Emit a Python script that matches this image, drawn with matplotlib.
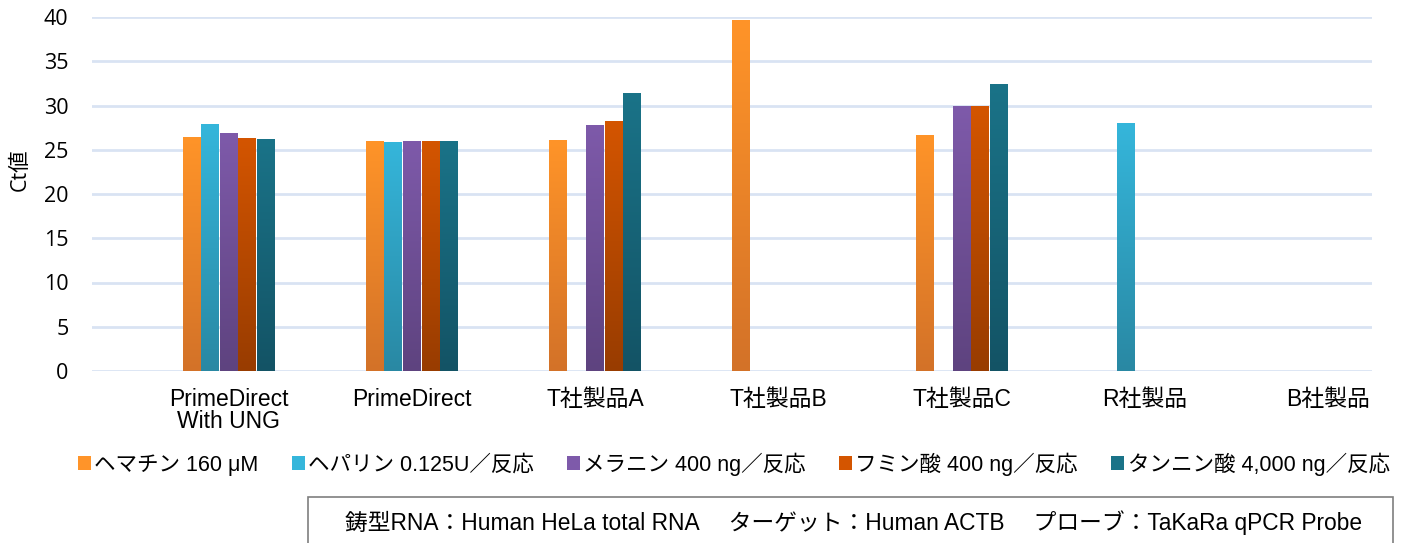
import numpy as np
import matplotlib
matplotlib.use("Agg")
import matplotlib.pyplot as plt
from matplotlib.colors import LinearSegmentedColormap
from matplotlib.patches import Rectangle

FAM = ['Liberation Sans', 'Noto Sans CJK JP']
plt.rcParams['font.family'] = FAM

categories = ["PrimeDirect\nWith UNG", "PrimeDirect", "T社製品A", "T社製品B", "T社製品C", "R社製品", "B社製品"]
series_names = ["ヘマチン 160 μM", "ヘパリン 0.125U／反応", "メラニン 400 ng／反応",
                "フミン酸 400 ng／反応", "タンニン酸 4,000 ng／反応"]
hematin = [26.4, 26.0, 26.1, 39.7, 26.7, np.nan, np.nan]
heparin = [27.9, 25.9, np.nan, np.nan, np.nan, 28.0, np.nan]
melanin = [26.9, 26.0, 27.8, np.nan, 29.9, np.nan, np.nan]
humic = [26.3, 26.0, 28.3, np.nan, 30.0, np.nan, np.nan]
tannic = [26.2, 26.0, 31.4, np.nan, 32.4, np.nan, np.nan]
series = [hematin, heparin, melanin, humic, tannic]
top_colors = ["#FF9429", "#35B6DB", "#7E5AAA", "#D45500", "#1A7388"]
bot_colors = ["#D37228", "#2988A3", "#5E437F", "#983C00", "#135365"]
yticks = [0, 5, 10, 15, 20, 25, 30, 35, 40]
footnote = "鋳型RNA：Human HeLa total RNA　 ターゲット：Human ACTB　 プローブ：TaKaRa qPCR Probe"

fig = plt.figure(figsize=(14.03, 5.43), dpi=100)
ax = fig.add_axes([92/1403, 1 - 371/543, (1372-92)/1403, (371-17)/543])

x = np.arange(len(categories))
slot = 0.1015
bw = 0.0955
grad = np.linspace(0, 1, 256).reshape(-1, 1)
for i, (vals, tc, bc) in enumerate(zip(series, top_colors, bot_colors)):
    cmap = LinearSegmentedColormap.from_list(f"g{i}", [bc, tc])
    pos = x + (i - 2) * slot
    bars = ax.bar(pos, vals, width=bw, color=tc, edgecolor='none', zorder=2, label=series_names[i])
    for b, v in zip(bars, vals):
        if np.isnan(v):
            continue
        x0 = b.get_x(); w = b.get_width(); h = b.get_height()
        im = ax.imshow(grad, cmap=cmap, origin='lower', aspect='auto',
                       extent=[x0, x0 + w, 0, h], zorder=3, interpolation='bilinear')
        im.set_clip_path(b)

ax.set_xlim(-0.745, 6.24)
ax.set_ylim(0, 40)
ax.set_yticks(yticks)
ax.set_yticklabels([str(v) for v in yticks], family=['Open Sans', 'DejaVu Sans'], fontsize=15.5)
ax.set_xticks(x)
ax.set_xticklabels(categories, fontsize=16.5, linespacing=0.95)
ax.tick_params(axis='both', length=0, colors='#000000')
ax.tick_params(axis='x', pad=12)
ax.tick_params(axis='y', pad=17)
for s in ax.spines.values():
    s.set_visible(False)
ax.grid(axis='y', color='#D9E3F3', linewidth=2, zorder=0)
ax.set_axisbelow(True)
ax.set_ylabel("Ct値", fontsize=15.5, family=['Open Sans', 'Noto Sans CJK JP'])
ax.yaxis.set_label_coords(-0.0475, 0.57)

handles, labels = ax.get_legend_handles_labels()
leg = fig.legend(handles, labels, loc='center left', bbox_to_anchor=(78/1403, 1 - 464/543),
                 ncol=5, frameon=False, fontsize=15.5, handlelength=0.6, handleheight=0.6,
                 handletextpad=0.15, columnspacing=1.55, borderaxespad=0, borderpad=0)

fig.patches.append(Rectangle((308/1403, -0.02), (1393-308)/1403, (543-497)/543 + 0.02,
                             transform=fig.transFigure, facecolor='white',
                             edgecolor='#7F7F7F', linewidth=1.2))
fig.text(854/1403, 1 - 523/543, footnote, ha='center', va='center', fontsize=16.4)

fig.savefig("out.png", dpi=100)
